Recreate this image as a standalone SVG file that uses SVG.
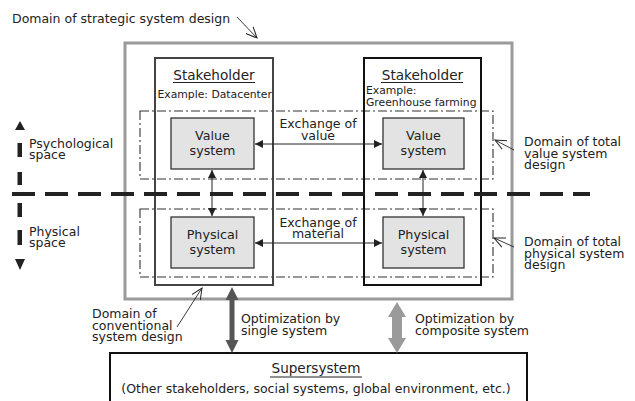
<svg xmlns="http://www.w3.org/2000/svg" width="635" height="401" viewBox="0 0 635 401">
<defs>
<style>
text{font-family:"DejaVu Sans","Liberation Sans",sans-serif;fill:#222;}
.lbl{font-size:12.5px;}
.sys{font-size:12.7px;text-anchor:middle;}
.sh{font-size:13.6px;text-anchor:middle;}
.ex{font-size:10.8px;}
.dd{fill:none;stroke:#333;stroke-width:1.1;stroke-dasharray:9 3 2 3;}
.box{fill:#e3e3e3;stroke:#333;stroke-width:1.3;}
.thin{stroke:#222;stroke-width:1;fill:none;}
.ptr{stroke:#222;stroke-width:0.9;fill:none;}
</style>
<marker id="ah" viewBox="0 0 10 10" refX="10" refY="5" markerWidth="8" markerHeight="8" markerUnits="userSpaceOnUse" orient="auto-start-reverse">
<path d="M0,0 L10,5 L0,10 z" fill="#222"/>
</marker>
<marker id="open" viewBox="0 0 12 12" refX="11" refY="6" markerWidth="12" markerHeight="12" markerUnits="userSpaceOnUse" orient="auto">
<path d="M0,1 L11,6 L0,11" fill="none" stroke="#222" stroke-width="1"/>
</marker>
</defs>
<rect width="635" height="401" fill="#fff"/>

<g id="strategic-domain">
<rect x="125" y="43" width="387" height="256" fill="none" stroke="#9a9a9a" stroke-width="3"/>
<text class="lbl" x="12" y="23">Domain of strategic system design</text>
</g>

<g id="value-domain">
<rect class="dd" x="140" y="111" width="353" height="68"/>
<text class="lbl" x="524" y="146">Domain of total</text>
<text class="lbl" x="524" y="157.5">value system</text>
<text class="lbl" x="524" y="169">design</text>
</g>

<g id="physical-domain">
<rect class="dd" x="140" y="209" width="353" height="68"/>
<text class="lbl" x="524" y="246">Domain of total</text>
<text class="lbl" x="524" y="257.5">physical system</text>
<text class="lbl" x="524" y="269">design</text>
</g>

<g id="stakeholder-left">
<rect x="155" y="58" width="118" height="227" fill="none" stroke="#444" stroke-width="2"/>
<text class="sh" x="214" y="80">Stakeholder</text>
<line x1="173" y1="82.5" x2="255" y2="82.5" stroke="#222" stroke-width="1"/>
<text class="ex" x="157.5" y="98">Example: Datacenter</text>
</g>

<g id="stakeholder-right">
<rect x="364" y="58" width="117" height="227" fill="none" stroke="#111" stroke-width="2"/>
<text class="sh" x="422.5" y="80">Stakeholder</text>
<line x1="381" y1="82.5" x2="463" y2="82.5" stroke="#222" stroke-width="1"/>
<text class="ex" x="366" y="94">Example:</text>
<text class="ex" x="366" y="106">Greenhouse farming</text>
</g>

<g id="value-left">
<rect class="box" x="171" y="118" width="83" height="51"/>
<text class="sys" x="212.5" y="140">Value</text>
<text class="sys" x="212.5" y="155">system</text>
</g>
<g id="value-right">
<rect class="box" x="383" y="118" width="81" height="51"/>
<text class="sys" x="423.5" y="140">Value</text>
<text class="sys" x="423.5" y="155">system</text>
</g>
<g id="physical-left">
<rect class="box" x="171" y="217" width="83" height="51"/>
<text class="sys" x="212.5" y="239">Physical</text>
<text class="sys" x="212.5" y="254">system</text>
</g>
<g id="physical-right">
<rect class="box" x="383" y="217" width="81" height="51"/>
<text class="sys" x="423.5" y="239">Physical</text>
<text class="sys" x="423.5" y="254">system</text>
</g>

<g id="supersystem">
<rect x="110" y="353" width="417" height="60" fill="none" stroke="#111" stroke-width="2"/>
<text class="sh" x="316" y="372.5">Supersystem</text>
<line x1="270" y1="377" x2="362" y2="377" stroke="#222" stroke-width="1"/>
<text class="lbl" x="316" y="393" text-anchor="middle">(Other stakeholders, social systems, global environment, etc.)</text>
</g>

<g id="space-axis">
<line x1="12" y1="194" x2="590" y2="194" stroke="#222" stroke-width="4" stroke-dasharray="23 10"/>
<path d="M20,121 L15,130 L25,130 z" fill="#222"/>
<rect x="17.5" y="143" width="4.5" height="14" fill="#222"/>
<rect x="17.5" y="172" width="4.5" height="13" fill="#222"/>
<rect x="17.5" y="203" width="4.5" height="14" fill="#222"/>
<rect x="17.5" y="230" width="4.5" height="15" fill="#222"/>
<path d="M15,259 L25,259 L20,270 z" fill="#222"/>
<text class="lbl" x="29" y="148">Psychological</text>
<text class="lbl" x="29" y="159">space</text>
<text class="lbl" x="29" y="236">Physical</text>
<text class="lbl" x="29" y="247">space</text>
</g>

<g id="conventional-label">
<text class="lbl" x="92" y="318">Domain of</text>
<text class="lbl" x="92" y="329.5">conventional</text>
<text class="lbl" x="92" y="341">system design</text>
</g>

<g id="connectors">
<line class="thin" x1="255" y1="144" x2="382" y2="144" marker-start="url(#ah)" marker-end="url(#ah)"/>
<text class="lbl" x="318" y="128" text-anchor="middle">Exchange of</text>
<text class="lbl" x="318" y="139.5" text-anchor="middle">value</text>
<line class="thin" x1="255" y1="243" x2="382" y2="243" marker-start="url(#ah)" marker-end="url(#ah)"/>
<text class="lbl" x="318" y="226.5" text-anchor="middle">Exchange of</text>
<text class="lbl" x="318" y="238" text-anchor="middle">material</text>
<line class="thin" x1="212" y1="170" x2="212" y2="216" marker-start="url(#ah)" marker-end="url(#ah)"/>
<line class="thin" x1="423" y1="170" x2="423" y2="216" marker-start="url(#ah)" marker-end="url(#ah)"/>

<path d="M232,287 L238.5,300 L234.5,300 L234.5,340 L238.5,340 L232,353 L225.5,340 L229.5,340 L229.5,300 L225.5,300 z" fill="#555"/>
<text class="lbl" x="241" y="323">Optimization by</text>
<text class="lbl" x="241" y="334.5">single system</text>
<path d="M397,302 L406,317 L402,317 L402,338 L406,338 L397,353 L388,338 L392,338 L392,317 L388,317 z" fill="#9a9a9a"/>
<text class="lbl" x="415" y="323">Optimization by</text>
<text class="lbl" x="415" y="334.5">composite system</text>

<line class="ptr" x1="237" y1="17" x2="257" y2="38" marker-end="url(#open)"/>
<line class="ptr" x1="514" y1="150" x2="495" y2="140" marker-end="url(#open)"/>
<line class="ptr" x1="514" y1="247" x2="494" y2="238" marker-end="url(#open)"/>
<line class="ptr" x1="177" y1="327" x2="202" y2="288" marker-end="url(#open)"/>
</g>
</svg>
